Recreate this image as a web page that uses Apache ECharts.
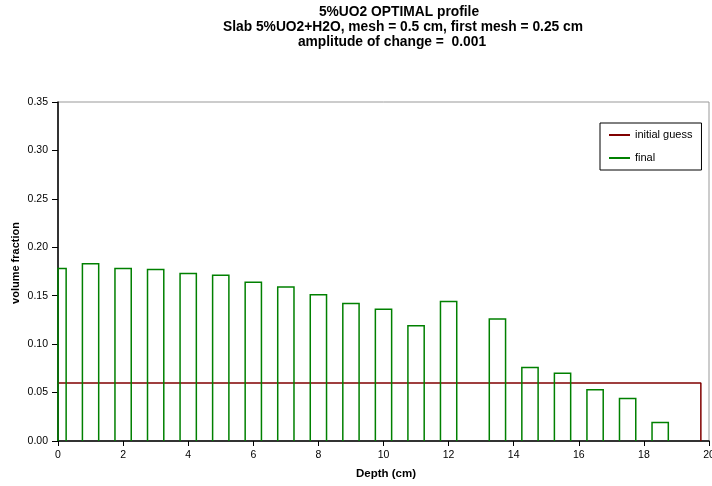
<!DOCTYPE html>
<html>
<head>
<meta charset="utf-8">
<script src="https://cdn.jsdelivr.net/npm/echarts@6/dist/echarts.min.js"></script>
<style>html,body{margin:0;padding:0;background:#fff}#c{width:712px;height:486px}</style>
</head>
<body>
<div id="c"></div>
<script>
// Data
var titleLines = ['5%UO2 OPTIMAL profile', 'Slab 5%UO2+H2O, mesh = 0.5 cm, first mesh = 0.25 cm', 'amplitude of change =  0.001'];
var binStart = [0, 0.75, 1.75, 2.75, 3.75, 4.75, 5.75, 6.75, 7.75, 8.75, 9.75, 10.75, 11.75, 13.25, 14.25, 15.25, 16.25, 17.25, 18.25];
var binEnd   = [0.25, 1.25, 2.25, 3.25, 4.25, 5.25, 6.25, 7.25, 8.25, 9.25, 10.25, 11.25, 12.25, 13.75, 14.75, 15.75, 16.75, 17.75, 18.75];
var finalValues = [0.178, 0.183, 0.178, 0.177, 0.173, 0.171, 0.164, 0.159, 0.151, 0.142, 0.136, 0.119, 0.144, 0.126, 0.076, 0.070, 0.053, 0.044, 0.019];
var initialX = [0, 19.75, 19.75];
var initialY = [0.06, 0.06, 0];

var finalData = binStart.map(function (s, i) { return [s, binEnd[i], finalValues[i]]; });
var initialData = initialX.map(function (x, i) { return [x, initialY[i]]; });

var GREEN = '#008000', RED = '#800000';
var TF = 'bold 13.8px Liberation Sans';
var chart = echarts.init(document.getElementById('c'), null, {renderer: 'canvas'});
chart.setOption({
  animation: false,
  backgroundColor: '#fff',
  textStyle: {fontFamily: 'Liberation Sans, Arial, sans-serif'},
  graphic: [
    {type: 'text', x: 399, y: 12.5, style: {text: titleLines[0], font: TF, fill: '#000', textAlign: 'center', textVerticalAlign: 'middle'}},
    {type: 'text', x: 403, y: 27.5, style: {text: titleLines[1], font: TF, fill: '#000', textAlign: 'center', textVerticalAlign: 'middle'}},
    {type: 'text', x: 392, y: 42.5, style: {text: titleLines[2], font: TF, fill: '#000', textAlign: 'center', textVerticalAlign: 'middle'}},
    {type: 'text', x: 16, y: 263, rotation: Math.PI / 2, style: {text: 'volume fraction', font: 'bold 11px Liberation Sans', fill: '#000', textAlign: 'center', textVerticalAlign: 'middle'}},
    {type: 'text', x: 386, y: 474, style: {text: 'Depth (cm)', font: 'bold 11.5px Liberation Sans', fill: '#000', textAlign: 'center', textVerticalAlign: 'middle'}}
  ],
  grid: {left: 58, right: 3, top: 102, bottom: 45, outerBoundsMode: 'none', containLabel: false, show: true, borderColor: '#999', borderWidth: 1, backgroundColor: 'transparent'},
  legend: {
    orient: 'vertical', left: 600, top: 123,
    padding: [6, 9, 6, 9], itemGap: 11, itemWidth: 21, itemHeight: 2,
    borderColor: '#000', borderWidth: 1, backgroundColor: '#fff',
    textStyle: {fontSize: 11, color: '#000', lineHeight: 12},
    data: [{name: 'initial guess', icon: 'rect'}, {name: 'final', icon: 'rect'}]
  },
  xAxis: {
    type: 'value', min: 0, max: 20, interval: 2,
    axisLine: {onZero: false, lineStyle: {color: '#000', width: 1.5}},
    axisTick: {show: true, inside: false, length: 5, lineStyle: {color: '#000'}},
    axisLabel: {fontSize: 10.5, color: '#000', margin: 9, hideOverlap: false},
    splitLine: {show: false}
  },
  yAxis: {
    type: 'value', min: 0, max: 0.35, interval: 0.05,
    axisLine: {show: true, onZero: false, lineStyle: {color: '#000', width: 1.5}},
    axisTick: {show: true, inside: false, length: 6, lineStyle: {color: '#000'}},
    axisLabel: {fontSize: 10.5, color: '#000', margin: 10, formatter: function (v) { return v.toFixed(2); }},
    splitLine: {show: false}
  },
  series: [
    {
      name: 'initial guess', type: 'line', data: initialData, symbol: 'none',
      lineStyle: {color: RED, width: 1.5}, itemStyle: {color: RED}, z: 3
    },
    {
      name: 'final', type: 'custom', data: finalData, itemStyle: {color: GREEN}, z: 4,
      encode: {x: [0, 1], y: 2},
      renderItem: function (params, api) {
        var a = api.coord([api.value(0), 0]);
        var b = api.coord([api.value(0), api.value(2)]);
        var c = api.coord([api.value(1), api.value(2)]);
        var d = api.coord([api.value(1), 0]);
        return {
          type: 'polyline',
          shape: {points: [a, b, c, d]},
          style: {stroke: GREEN, fill: null, lineWidth: 1.5}
        };
      }
    }
  ]
});
</script>
</body>
</html>
